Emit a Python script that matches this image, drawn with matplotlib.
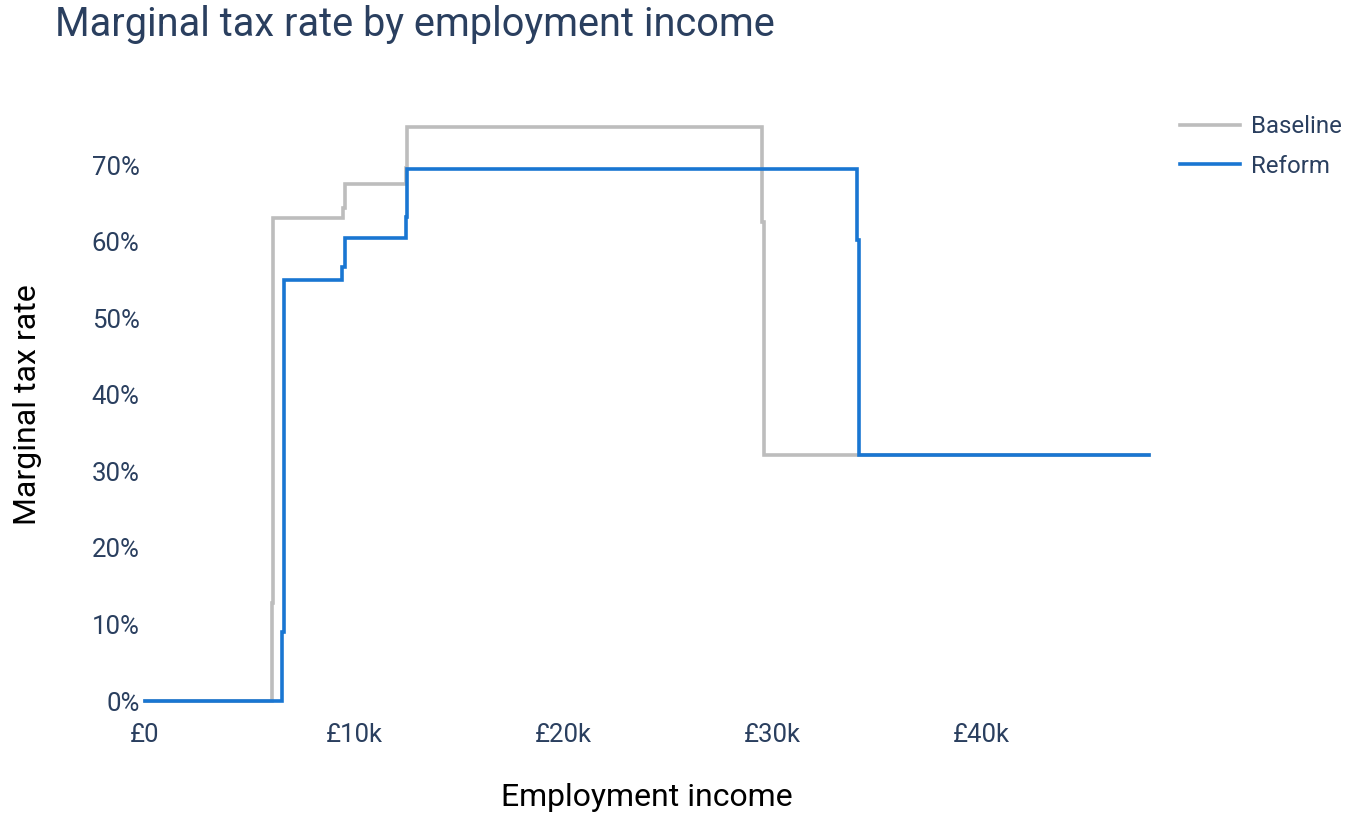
import matplotlib
matplotlib.use("Agg")
import matplotlib.pyplot as plt
from matplotlib.ticker import FuncFormatter

plt.rcParams['font.family'] = ['Roboto', 'DejaVu Sans']

# Data (income in £, marginal tax rate as fraction) - step functions (value holds until next break)
baseline_income = [0, 6050, 6130, 9470, 9550, 12460, 12540, 29500, 29600, 48000]
baseline_rate = [0.0, 0.128, 0.631, 0.644, 0.675, 0.697, 0.750, 0.626, 0.321, 0.321]

reform_income = [0, 6540, 6660, 9420, 9550, 12460, 12540, 34050, 34130, 48000]
reform_rate = [0.0, 0.090, 0.550, 0.567, 0.605, 0.633, 0.695, 0.602, 0.321, 0.321]

x_ticks = [0, 10000, 20000, 30000, 40000]
x_tick_labels = ['£0', '£10k', '£20k', '£30k', '£40k']
y_ticks = [0, 0.1, 0.2, 0.3, 0.4, 0.5, 0.6, 0.7]

title_color = '#2a3f5f'
W, H = 1356, 830
fig = plt.figure(figsize=(W / 100, H / 100), dpi=100)
ax = fig.add_axes([145 / W, 1 - 701 / H, (1149 - 145) / W, (701 - 127) / H])

ax.plot(baseline_income, baseline_rate, drawstyle='steps-post', color='#BDBDBD',
        lw=2.6, label='Baseline', clip_on=False, solid_joinstyle='miter')
ax.plot(reform_income, reform_rate, drawstyle='steps-post', color='#1976D2',
        lw=2.6, label='Reform', clip_on=False, solid_joinstyle='miter')

ax.set_xlim(0, 48000)
ax.set_ylim(0, 0.75)
ax.set_xticks(x_ticks)
ax.set_xticklabels(x_tick_labels)
ax.set_yticks(y_ticks)
ax.yaxis.set_major_formatter(FuncFormatter(lambda v, p: f'{v * 100:.0f}%'))
for s in ax.spines.values():
    s.set_visible(False)
ax.tick_params(axis='both', length=0, labelsize=18.5, labelcolor=title_color)
ax.tick_params(axis='x', pad=16)
ax.tick_params(axis='y', pad=4)

ax.set_xlabel('Employment income', fontsize=23, color='black', labelpad=26)
ax.set_ylabel('Marginal tax rate', fontsize=23, color='black')
ax.yaxis.set_label_coords(-(145 - 28) / (1149 - 145), (701 - 405) / (701 - 127))
ax.yaxis.label.set_va('center')

fig.text(55 / W, 1 - 36 / H, 'Marginal tax rate by employment income',
         fontsize=28.6, color=title_color, ha='left', va='baseline')

leg = ax.legend(loc='upper left', bbox_to_anchor=(1180 / W, 1 - 115 / H),
                bbox_transform=fig.transFigure, frameon=False, fontsize=17.3,
                handlelength=2.5, handletextpad=0.45, labelspacing=0.7,
                borderpad=0, borderaxespad=0)
for t in leg.get_texts():
    t.set_color(title_color)
for l in leg.get_lines():
    l.set_linewidth(2.6)

fig.savefig('out.png', dpi=100)
